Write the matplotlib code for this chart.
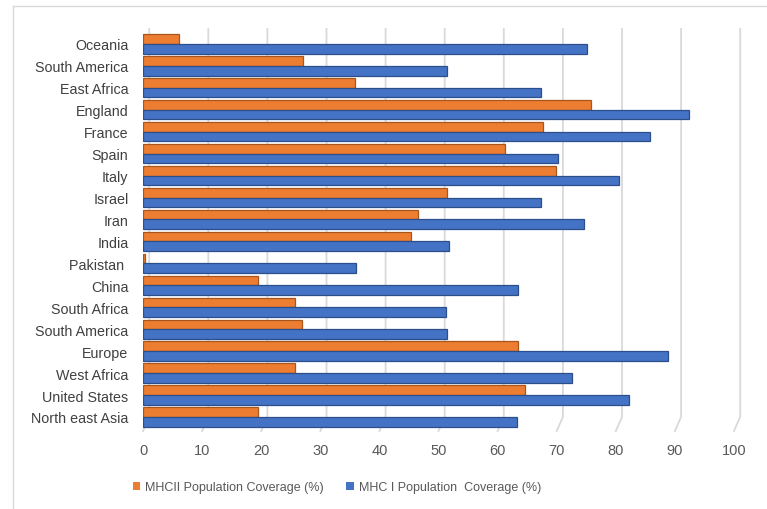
import matplotlib.pyplot as plt
import matplotlib.transforms as mtransforms
from matplotlib.lines import Line2D
import numpy as np

# Regions, top to bottom
regions = [
    "Oceania", "South America", "East Africa", "England", "France", "Spain",
    "Italy", "Israel", "Iran", "India", "Pakistan ", "China", "South Africa",
    "South America", "Europe", "West Africa", "United States", "North east Asia",
]

# Population coverage (%)
mhc2 = [6.1, 27.0, 35.8, 75.8, 67.6, 61.3, 69.9, 51.4, 46.6, 45.4,
        0.3, 19.4, 25.7, 26.9, 63.5, 25.7, 64.7, 19.5]
mhc1 = [75.2, 51.4, 67.4, 92.4, 85.8, 70.3, 80.6, 67.4, 74.7, 51.7,
        36.0, 63.5, 51.2, 51.4, 88.8, 72.6, 82.3, 63.2]

xticks = np.arange(0, 101, 10)

orange, orange_edge = "#ED7D31", "#A9561C"
blue, blue_edge = "#4472C4", "#2C4F8C"

W, H = 767, 510
fig = plt.figure(figsize=(W / 100, H / 100), dpi=100)
plt.rcParams['font.family'] = ['Liberation Sans', 'DejaVu Sans']

ax = fig.add_axes([143 / W, 1 - 432 / H, (734 - 143) / W, (432 - 30) / H])

y = np.arange(len(regions))
h = 0.44
ax.barh(y - h / 2, mhc2, height=h, color=orange, edgecolor=orange_edge,
        linewidth=0.9, zorder=3, label="MHCII Population Coverage (%)")
ax.barh(y + h / 2, mhc1, height=h, color=blue, edgecolor=blue_edge,
        linewidth=0.9, zorder=3, label="MHC I Population  Coverage (%)")

ax.set_xlim(0, 100)
ax.set_ylim(17.64, -0.68)

# gridlines drawn on the back wall, with a slanted foot on the floor
trans = mtransforms.blended_transform_factory(ax.transData, ax.transAxes)
depth = 1.05
for v in xticks:
    ax.plot([v + depth, v + depth, v], [1.0, 0.035, 0.0], transform=trans,
            color="#D9D9D9", lw=1.3, zorder=1, clip_on=False)

ax.set_xticks(xticks)
ax.set_xticklabels([str(t) for t in xticks], fontsize=10.5, color="#595959")
ax.set_yticks(y)
ax.set_yticklabels(regions, fontsize=10.3, color="#404040")
ax.tick_params(axis="both", length=0)
ax.tick_params(axis="x", pad=8.5)
ax.tick_params(axis="y", pad=10.5)
for s in ax.spines.values():
    s.set_visible(False)

# chart frame
fig.add_artist(Line2D([13 / W, 13 / W], [1 - 7 / H, 0], color="#D9D9D9", lw=1))
fig.add_artist(Line2D([13 / W, 1], [1 - 7 / H, 1 - 7 / H], color="#D9D9D9", lw=1))

leg = fig.legend(loc="center", bbox_to_anchor=(337 / W, 1 - 488 / H), ncol=2,
                 frameon=False, labelcolor="#595959", fontsize=9,
                 handlelength=0.6, handleheight=0.6, handletextpad=0.4,
                 columnspacing=1.8)
for patch in leg.get_patches():
    patch.set_edgecolor("none")

fig.savefig("out.png", dpi=100, facecolor="white")
